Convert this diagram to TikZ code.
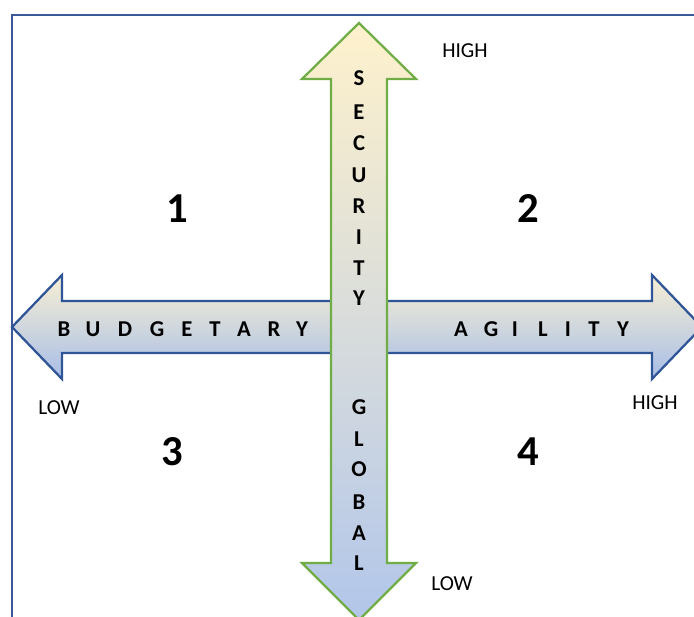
\documentclass[tikz,border=0pt]{standalone}
\usepackage{fontspec}
\setmainfont{Carlito}

\definecolor{framblue}{RGB}{59,89,152}
\definecolor{edgeblue}{RGB}{47,85,151}
\definecolor{edgegreen}{RGB}{112,173,71}
\definecolor{shadetop}{RGB}{247,239,212}
\definecolor{shadebot}{RGB}{168,190,231}
\definecolor{vshadetop}{RGB}{255,242,204}
\definecolor{vshademid}{RGB}{204,212,224}
\definecolor{vshadebot}{RGB}{178,198,234}

\tikzset{every picture/.style={line width=0.75pt}}
\tikzset{
  paneframe/.style={draw=framblue, line width=2pt},
  budgetaxis/.style={draw=edgeblue, line width=1.7pt, top color=shadetop, bottom color=shadebot},
  securityaxis/.style={draw=edgegreen, line width=1.7pt, top color=vshadetop, middle color=vshademid, bottom color=vshadebot},
  axisletter/.style={inner sep=0.75pt, font=\fontsize{17}{20}\selectfont\bfseries},
  quadnum/.style={inner sep=0.75pt, font=\fontsize{32}{36}\selectfont\bfseries},
  levellabel/.style={inner sep=0.75pt, font=\fontsize{16}{19}\selectfont}
}

\begin{document}
\begin{tikzpicture}[x=0.75pt,y=0.75pt,yscale=-1,xscale=1]
\useasboundingbox (0,0) rectangle (694,617);
\clip (0,0) rectangle (694,617);
%Shape: Rectangle [id:frame]
\draw [paneframe] (12,15) rectangle (740,660) ;
%Shape: Double Arrow [id:budget-agility]
\draw [budgetaxis] (12,327) -- (62,275) -- (62,301) -- (652,301) -- (652,275) -- (702,327) -- (652,379) -- (652,353) -- (62,353) -- (62,379) -- cycle ;
%Shape: Double Arrow [id:security-global]
\draw [securityaxis] (359,23) -- (416,79) -- (387,79) -- (387,563) -- (416,563) -- (359,620) -- (302,563) -- (331,563) -- (331,79) -- (302,79) -- cycle ;

% Text Node
\draw (359,78) node (sec1) [axisletter] {S};
% Text Node
\draw (359,112) node (sec2) [axisletter] {E};
% Text Node
\draw (359,143) node (sec3) [axisletter] {C};
% Text Node
\draw (359,175) node (sec4) [axisletter] {U};
% Text Node
\draw (359,206) node (sec5) [axisletter] {R};
% Text Node
\draw (359,237) node (sec6) [axisletter] {I};
% Text Node
\draw (359,268) node (sec7) [axisletter] {T};
% Text Node
\draw (359,298) node (sec8) [axisletter] {Y};
% Text Node
\draw (359,407) node (glo1) [axisletter] {G};
% Text Node
\draw (359,439) node (glo2) [axisletter] {L};
% Text Node
\draw (359,469) node (glo3) [axisletter] {O};
% Text Node
\draw (359,502) node (glo4) [axisletter] {B};
% Text Node
\draw (359,533) node (glo5) [axisletter] {A};
% Text Node
\draw (359,563) node (glo6) [axisletter] {L};
% Text Node
\draw (64,329) node (bud1) [axisletter] {B};
% Text Node
\draw (93,329) node (bud2) [axisletter] {U};
% Text Node
\draw (125,329) node (bud3) [axisletter] {D};
% Text Node
\draw (157,329) node (bud4) [axisletter] {G};
% Text Node
\draw (187,329) node (bud5) [axisletter] {E};
% Text Node
\draw (215,329) node (bud6) [axisletter] {T};
% Text Node
\draw (244,329) node (bud7) [axisletter] {A};
% Text Node
\draw (274,329) node (bud8) [axisletter] {R};
% Text Node
\draw (302,329) node (bud9) [axisletter] {Y};
% Text Node
\draw (461,329) node (agi1) [axisletter] {A};
% Text Node
\draw (491,329) node (agi2) [axisletter] {G};
% Text Node
\draw (515,329) node (agi3) [axisletter] {I};
% Text Node
\draw (543,329) node (agi4) [axisletter] {L};
% Text Node
\draw (568,329) node (agi5) [axisletter] {I};
% Text Node
\draw (594,329) node (agi6) [axisletter] {T};
% Text Node
\draw (623,329) node (agi7) [axisletter] {Y};
% Text Node
\draw (177,209) node (quad1) [quadnum] {1};
% Text Node
\draw (528,209) node (quad2) [quadnum] {2};
% Text Node
\draw (172,452) node (quad3) [quadnum] {3};
% Text Node
\draw (528,452) node (quad4) [quadnum] {4};
% Text Node
\draw (465,51) node (highsec) [levellabel] {HIGH};
% Text Node
\draw (452,584) node (lowglo) [levellabel] {LOW};
% Text Node
\draw (59,408) node (lowbud) [levellabel] {LOW};
% Text Node
\draw (655,403) node (highagi) [levellabel] {HIGH};
\end{tikzpicture}
\end{document}
